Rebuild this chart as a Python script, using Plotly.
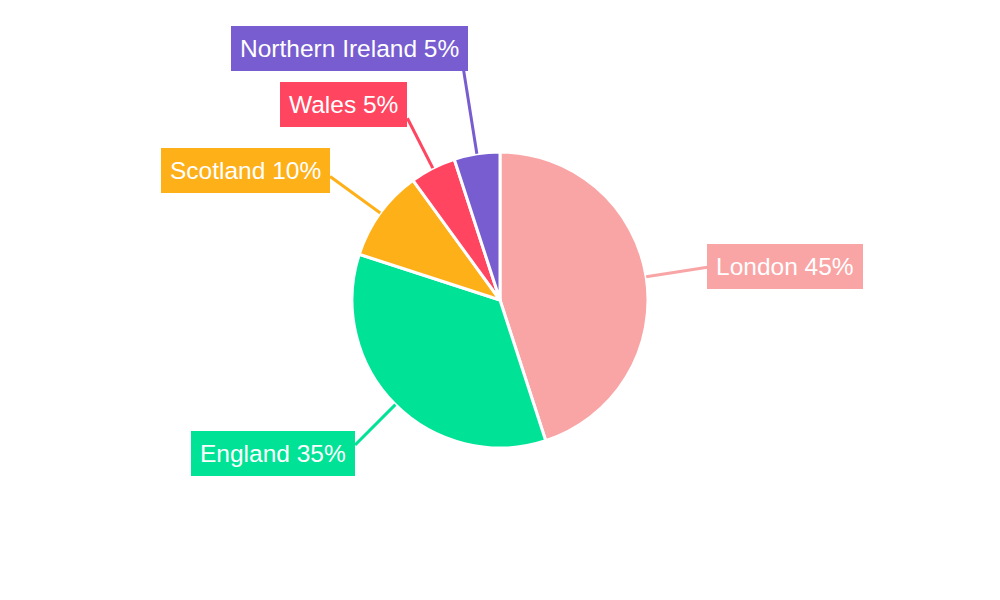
import math
import plotly.graph_objects as go

labels = ["London", "England", "Scotland", "Wales", "Northern Ireland"]
values = [45, 35, 10, 5, 5]
colors = ["#F9A5A6", "#00E396", "#FEB019", "#FF4560", "#775DD0"]

# leader line lengths (px) and nudges of the label boxes (px)
leader = [62, 57, 62, 56, 86]
yshift = [1, -9, 6, 14, 20]
xshift = [0, 0, 0, 0, 5]

W, H = 1000, 600
# page body adds 8px, so the pie centre sits at (500, 300) on screen
cx, cy, R = 492, 292, 148

fig = go.Figure(
    go.Pie(
        labels=labels,
        values=values,
        sort=False,
        direction="clockwise",
        rotation=0,
        textinfo="none",
        hoverinfo="label+percent",
        marker=dict(colors=colors, line=dict(color="white", width=3)),
        domain=dict(x=[(cx - R) / W, (cx + R) / W], y=[1 - (cy + R) / H, 1 - (cy - R) / H]),
        showlegend=False,
    )
)

total = sum(values)
cum = 0
for i, (lab, v) in enumerate(zip(labels, values)):
    mid = 90 - (cum + v / 2) / total * 360
    cum += v
    a = math.radians(mid)
    x0, y0 = cx + R * math.cos(a), cy - R * math.sin(a)
    x1, y1 = cx + (R + leader[i]) * math.cos(a), cy - (R + leader[i]) * math.sin(a)
    fig.add_shape(
        type="line", xref="paper", yref="paper",
        x0=x0 / W, y0=1 - y0 / H, x1=x1 / W, y1=1 - y1 / H,
        line=dict(color=colors[i], width=3),
    )
    pct = round(v / total * 100)
    fig.add_annotation(
        xref="paper", yref="paper",
        x=x1 / W, y=1 - y1 / H,
        xanchor="left" if math.cos(a) > 0 else "right",
        yanchor="middle",
        xshift=xshift[i], yshift=yshift[i],
        text=f"{lab} {pct}%",
        showarrow=False,
        font=dict(family="Liberation Sans, Arial", size=24.5, color="white"),
        bgcolor=colors[i],
        borderpad=9,
        borderwidth=0,
    )

fig.update_layout(
    width=W, height=H,
    margin=dict(l=0, r=0, t=0, b=0),
    paper_bgcolor="white",
    plot_bgcolor="white",
)

fig.write_html("out.html")
